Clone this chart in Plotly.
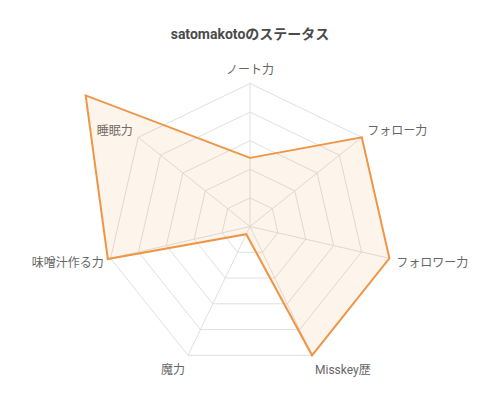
import plotly.graph_objects as go

categories = ["ノート力", "フォロー力", "フォロワー力", "Misskey歴", "魔力", "味噌汁作る力", "睡眠力"]
values = [48, 100, 100, 100, 6, 102, 147]
grid_ticks = [20, 40, 60, 80, 100]
title_text = "satomakotoのステータス"

FONT = "Roboto, Noto Sans CJK JP"

fig = go.Figure()
# invisible trace to set up the category axis of the grid subplot
fig.add_trace(go.Scatterpolar(r=[0] * len(categories), theta=categories, mode="lines",
                              line=dict(width=0), hoverinfo="skip", subplot="polar"))
# data trace on an overlaid polar with a wider radial range so the large value is not clipped
fig.add_trace(go.Scatterpolar(
    r=values + values[:1], theta=categories + categories[:1], mode="lines", fill="toself",
    line=dict(color="rgb(238,150,70)", width=2),
    fillcolor="rgba(238,150,70,0.1)",
    hoverinfo="skip", subplot="polar2",
))

# page body has an 8px margin -> figure coordinates are page coordinates minus 8
W, H = 492, 440
cx, cy, R = 242, 218.5, 143
R2_range = 150
R2 = R * R2_range / 100

def dom(rad):
    return dict(x=[(cx - rad) / W, (cx + rad) / W], y=[1 - (cy + rad) / H, 1 - (cy - rad) / H])

fig.update_layout(
    width=W, height=H,
    margin=dict(l=0, r=0, t=0, b=0),
    paper_bgcolor="white",
    showlegend=False,
    font=dict(family=FONT, color="#666", size=12),
    title=dict(text=f"<b>{title_text}</b>", x=cx / W, xanchor="center", y=1 - 26 / H, yanchor="middle",
               font=dict(size=14, color="#4a4a4a", family=FONT)),
    polar=dict(
        domain=dom(R),
        bgcolor="rgba(0,0,0,0)",
        gridshape="linear",
        radialaxis=dict(range=[0, 100], tickvals=grid_ticks, showticklabels=False,
                        ticks="", showline=False, gridcolor="#e0e0e0", gridwidth=1),
        angularaxis=dict(rotation=90, direction="clockwise", showline=True, linecolor="#e0e0e0",
                         gridcolor="#e0e0e0", ticks="outside", ticklen=4,
                         tickcolor="rgba(0,0,0,0)", tickfont=dict(size=12, color="#666")),
    ),
    polar2=dict(
        domain=dom(R2),
        bgcolor="rgba(0,0,0,0)",
        gridshape="linear",
        radialaxis=dict(range=[0, R2_range], visible=False),
        angularaxis=dict(rotation=90, direction="clockwise", visible=False),
    ),
)
fig.write_html(
    "out.html",
    post_script="document.documentElement.style.overflow='hidden';document.body.style.overflow='hidden';",
)
